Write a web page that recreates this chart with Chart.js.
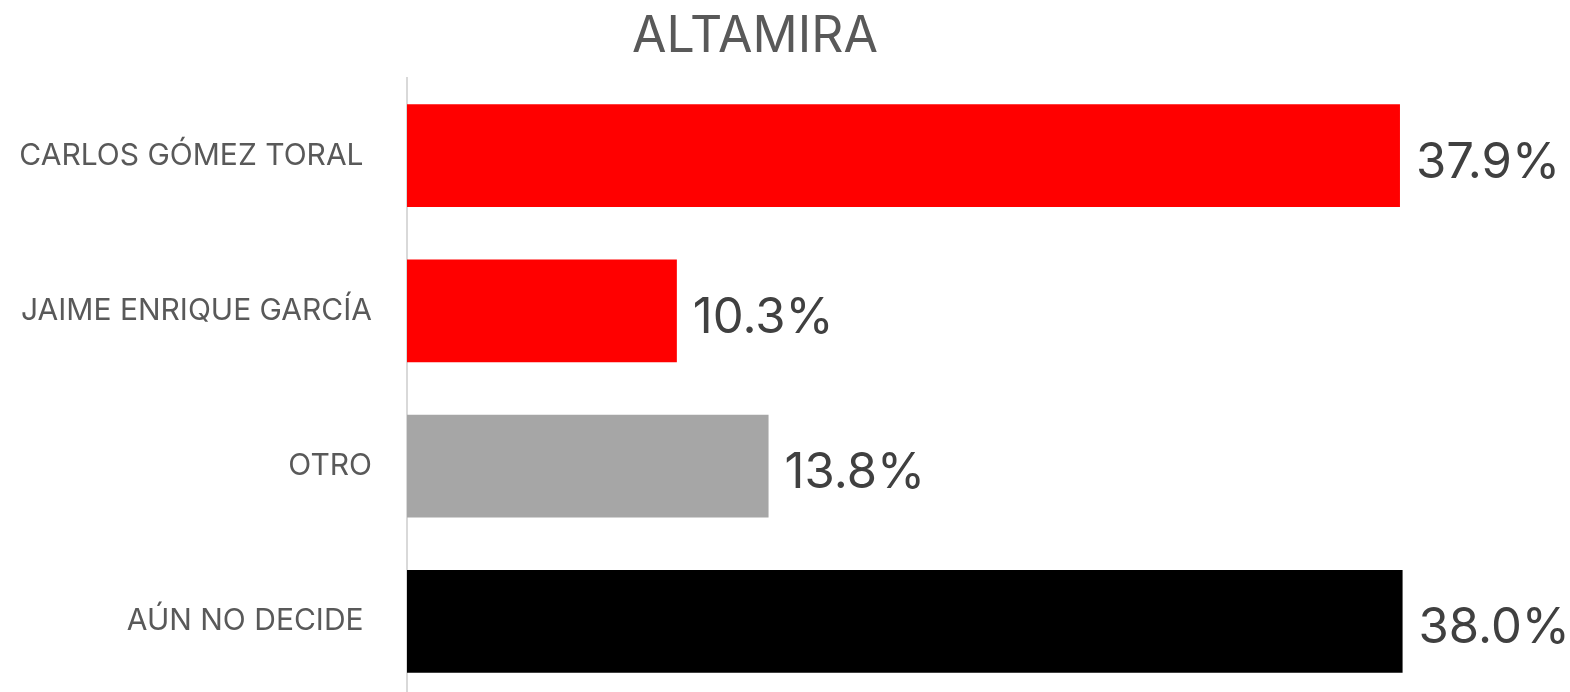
<!DOCTYPE html>
<html>
<head>
<meta charset="utf-8">
<title>ALTAMIRA</title>
<script src="https://cdn.jsdelivr.net/npm/chart.js@4.4.1/dist/chart.umd.min.js"></script>
<style>
  html, body { margin: 0; padding: 0; background: #fff; overflow: hidden; }
  /* canvas runs past the bottom of the window, as in the original crop */
  #wrap { position: relative; width: 1570px; height: 752px; }
</style>
</head>
<body>
<div id="wrap"><canvas id="altamiraChart"></canvas></div>
<script>
// candidates and their share of the vote (%)
const candidates = ['CARLOS GÓMEZ TORAL ', 'JAIME ENRIQUE GARCÍA', 'OTRO', 'AÚN NO DECIDE '];
const shares = [37.9, 10.3, 13.8, 38.0];
const barColors = ['#FF0000', '#FF0000', '#A6A6A6', '#000000'];

const FONT = 'Inter';
const TEXT_GREY = '#595959';
const VALUE_GREY = '#404040';

// value labels at the end of each bar
const valueLabels = {
  id: 'valueLabels',
  afterDatasetsDraw(chart) {
    const ctx = chart.ctx;
    const meta = chart.getDatasetMeta(0);
    ctx.save();
    ctx.font = '400 49px ' + FONT;
    ctx.fillStyle = VALUE_GREY;
    ctx.textAlign = 'left';
    ctx.textBaseline = 'alphabetic';
    meta.data.forEach(function (bar, i) {
      ctx.fillText(shares[i].toFixed(1) + '%', bar.x + 16, bar.y + 22);
    });
    ctx.restore();
  }
};

new Chart(document.getElementById('altamiraChart'), {
  type: 'bar',
  data: {
    labels: candidates,
    datasets: [{
      data: shares,
      backgroundColor: barColors,
      barPercentage: 0.663,
      categoryPercentage: 1,
    }],
  },
  options: {
    indexAxis: 'y',
    responsive: true,
    maintainAspectRatio: false,
    animation: false,
    layout: { padding: { left: 0, right: 60, top: 0, bottom: 0 } },
    plugins: {
      legend: { display: false },
      tooltip: { enabled: false },
      title: {
        display: true,
        text: 'ALTAMIRA',
        color: TEXT_GREY,
        font: { family: FONT, size: 50, weight: '400', lineHeight: 1.2 },
        padding: { top: 7, bottom: 11 },
      },
    },
    scales: {
      x: { display: false, min: 0, max: 42.1 },
      y: {
        afterFit(scale) { scale.width = 407; },
        grid: { display: false, drawTicks: false },
        border: { display: true, color: '#D9D9D9', width: 2 },
        ticks: { color: TEXT_GREY, padding: 35, font: { family: FONT, size: 30, weight: '400' } },
      },
    },
  },
  plugins: [valueLabels],
});
</script>
</body>
</html>
